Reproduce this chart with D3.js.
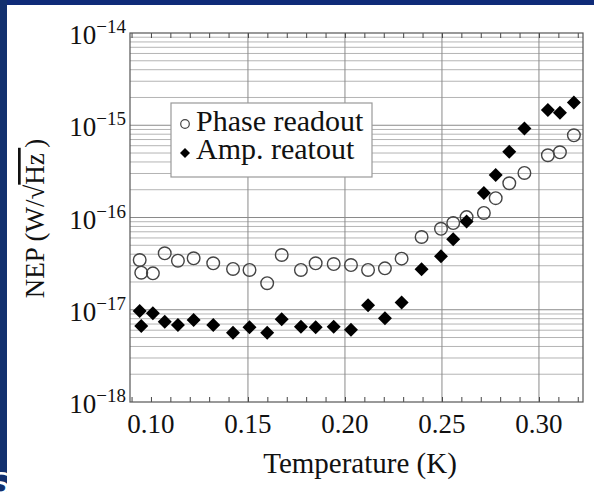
<!DOCTYPE html>
<html>
<head>
<meta charset="utf-8">
<script src="https://cdn.jsdelivr.net/npm/d3@7"></script>
<style>
  html, body { margin: 0; padding: 0; background: #fff; }
  svg { display: block; }
  text { font-family: "Liberation Serif", "Times New Roman", serif; fill: #111; }
</style>
</head>
<body>
<svg id="chart" width="594" height="492"></svg>
<script>
// temperatures (K) shared by both readouts
var temps = [0.0942, 0.0950, 0.1010, 0.1071, 0.1139, 0.1220, 0.1321, 0.1423, 0.1508, 0.1599,
             0.1674, 0.1773, 0.1849, 0.1942, 0.2031, 0.2119, 0.2206, 0.2292, 0.2395, 0.2495,
             0.2558, 0.2627, 0.2716, 0.2777, 0.2847, 0.2925, 0.3046, 0.3108, 0.3180];
var phaseNEP = [3.46e-17, 2.52e-17, 2.48e-17, 4.09e-17, 3.40e-17, 3.61e-17, 3.19e-17, 2.77e-17, 2.70e-17, 1.94e-17,
                3.92e-17, 2.70e-17, 3.19e-17, 3.13e-17, 3.05e-17, 2.70e-17, 2.81e-17, 3.58e-17, 6.15e-17, 7.54e-17,
                8.71e-17, 1.01e-16, 1.12e-16, 1.62e-16, 2.35e-16, 3.04e-16, 4.73e-16, 5.09e-16, 7.78e-16];
var ampNEP = [9.69e-18, 6.67e-18, 9.15e-18, 7.42e-18, 6.84e-18, 7.74e-18, 6.84e-18, 5.64e-18, 6.45e-18, 5.64e-18,
              7.87e-18, 6.55e-18, 6.45e-18, 6.55e-18, 6.08e-18, 1.12e-17, 8.07e-18, 1.20e-17, 2.75e-17, 3.79e-17,
              5.82e-17, 9.05e-17, 1.84e-16, 2.89e-16, 5.17e-16, 9.22e-16, 1.46e-15, 1.37e-15, 1.76e-15];
var xTicks = [0.10, 0.15, 0.20, 0.25, 0.30];
var xGrid = [0.15, 0.20, 0.25, 0.30];
var yDecades = [-18, -17, -16, -15, -14];
var legendLabels = ["Phase readout", "Amp. reatout"];

var svg = d3.select('#chart');
var pLeft = 130, pTop = 33, pRight = 583, pBottom = 402;

var x = d3.scaleLinear().domain([0.0892, 0.3227]).range([pLeft, pRight]);
var y = d3.scaleLog().domain([1e-18, 1e-14]).range([pBottom, pTop]);

// slide background strips
svg.append('rect').attr('x', 0).attr('y', 0).attr('width', 594).attr('height', 5).attr('fill', '#0f2b78');
svg.append('rect').attr('x', 0).attr('y', 0).attr('width', 7).attr('height', 492).attr('fill', '#12306e');
svg.append('clipPath').attr('id', 'leftclip').append('rect').attr('x', 0).attr('y', 0).attr('width', 7).attr('height', 492);
svg.append('text').attr('x', -9).attr('y', 494).style('font-family', 'DejaVu Sans, sans-serif')
    .style('font-size', '30px').style('fill', '#fff').attr('clip-path', 'url(#leftclip)').text('S');

// grid
var minorVals = [];
yDecades.slice(0, -1).forEach(function(k) {
    for (var m = 2; m <= 9; m++) minorVals.push(m * Math.pow(10, k));
});
var majorVals = [1e-17, 1e-16, 1e-15];

var grid = svg.append('g');
grid.selectAll('line.minor').data(minorVals).enter().append('line')
    .attr('x1', pLeft).attr('x2', pRight)
    .attr('y1', function(d) { return y(d); }).attr('y2', function(d) { return y(d); })
    .attr('stroke', '#b4b4b4').attr('stroke-width', 1);
grid.selectAll('line.major').data(majorVals).enter().append('line')
    .attr('x1', pLeft).attr('x2', pRight)
    .attr('y1', function(d) { return y(d); }).attr('y2', function(d) { return y(d); })
    .attr('stroke', '#8a8a8a').attr('stroke-width', 1);
grid.selectAll('line.vx').data(xGrid).enter().append('line')
    .attr('x1', function(d) { return x(d); }).attr('x2', function(d) { return x(d); })
    .attr('y1', pTop).attr('y2', pBottom)
    .attr('stroke', '#8a8a8a').attr('stroke-width', 1);

// axes ticks (inward)
var xMinor = d3.range(9, 33).map(function(d) { return d / 100; });
svg.append('g').attr('transform', 'translate(0,' + pBottom + ')')
    .call(d3.axisBottom(x).tickValues(xMinor).tickSize(-5).tickFormat(''))
    .call(function(g) { g.select('.domain').remove(); g.selectAll('line').attr('stroke', '#444'); });
svg.append('g').attr('transform', 'translate(0,' + pTop + ')')
    .call(d3.axisTop(x).tickValues(xMinor).tickSize(-5).tickFormat(''))
    .call(function(g) { g.select('.domain').remove(); g.selectAll('line').attr('stroke', '#444'); });

// frame
svg.append('rect').attr('x', pLeft).attr('y', pTop).attr('width', pRight - pLeft).attr('height', pBottom - pTop)
    .attr('fill', 'none').attr('stroke', '#555').attr('stroke-width', 1.2);

// x tick labels
svg.append('g').selectAll('text').data(xTicks).enter().append('text')
    .attr('x', function(d) { return x(d); }).attr('y', 433)
    .attr('text-anchor', 'middle').style('font-size', '27px')
    .text(function(d) { return d.toFixed(2); });

// y tick labels 10^k
var yl = svg.append('g').selectAll('text').data(yDecades).enter().append('text')
    .attr('x', 126).attr('y', function(d) { return y(Math.pow(10, d)) + 11; })
    .attr('text-anchor', 'end').style('font-size', '27px');
yl.append('tspan').text('10');
yl.append('tspan').attr('dy', -11).style('font-size', '19px').text(function(d) { return '\u2212' + (-d); });

// axis titles
svg.append('text').attr('x', 360).attr('y', 473).attr('text-anchor', 'middle')
    .style('font-size', '29px').text('Temperature (K)');
var yt = svg.append('text').attr('transform', 'translate(44,' + ((pTop + pBottom) / 2 + 1) + ') rotate(-90)')
    .attr('text-anchor', 'middle').style('font-size', '27px');
yt.append('tspan').text('NEP (W/\u221A');
yt.append('tspan').style('text-decoration', 'overline').text('Hz\u2009');
yt.append('tspan').text(')');

// markers
function diamond(s) {
    return 'M0,' + (-s) + 'L' + s + ',0L0,' + s + 'L' + (-s) + ',0Z';
}
svg.append('g').selectAll('circle').data(temps).enter().append('circle')
    .attr('cx', function(d) { return x(d); })
    .attr('cy', function(d, i) { return y(phaseNEP[i]); })
    .attr('r', 6.3).attr('fill', 'none').attr('stroke', '#444').attr('stroke-width', 1.4);
svg.append('g').selectAll('path').data(temps).enter().append('path')
    .attr('transform', function(d, i) { return 'translate(' + x(d) + ',' + y(ampNEP[i]) + ')'; })
    .attr('d', diamond(7)).attr('fill', '#000');

// legend
var lg = svg.append('g');
lg.append('rect').attr('x', 171).attr('y', 103).attr('width', 201).attr('height', 74)
    .attr('fill', '#fff').attr('stroke', '#999').attr('stroke-width', 1.2);
lg.append('circle').attr('cx', 185).attr('cy', 124).attr('r', 4.3)
    .attr('fill', 'none').attr('stroke', '#444').attr('stroke-width', 1.2);
lg.append('path').attr('transform', 'translate(185,153)').attr('d', diamond(5)).attr('fill', '#000');
lg.selectAll('text').data(legendLabels).enter().append('text')
    .attr('x', 196).attr('y', function(d, i) { return 131 + i * 28; })
    .style('font-size', '30px').text(function(d) { return d; });
</script>
</body>
</html>
